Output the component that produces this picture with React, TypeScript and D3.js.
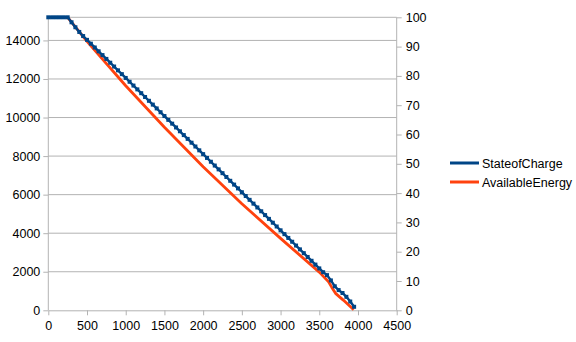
import React, { useEffect, useRef } from 'react';
import * as d3 from 'd3';

// time (x) for the State of Charge series, one sample every 50
const socTime = [
  0, 50, 100, 150, 200, 250, 300, 350, 400, 450, 500, 550, 600, 650, 700, 750,
  800, 850, 900, 950, 1000, 1050, 1100, 1150, 1200, 1250, 1300, 1350, 1400, 1450,
  1500, 1550, 1600, 1650, 1700, 1750, 1800, 1850, 1900, 1950, 2000, 2050, 2100,
  2150, 2200, 2250, 2300, 2350, 2400, 2450, 2500, 2550, 2600, 2650, 2700, 2750,
  2800, 2850, 2900, 2950, 3000, 3050, 3100, 3150, 3200, 3250, 3300, 3350, 3400,
  3450, 3500, 3550, 3600, 3650, 3700, 3750, 3800, 3850, 3900, 3950,
];
const stateOfCharge = [
  100, 100, 100, 100, 100, 100, 98.3, 96.6, 95.0, 93.6, 92.3, 91.0, 89.7, 88.4,
  87.1, 85.8, 84.5, 83.2, 81.9, 80.6, 79.3, 78.0, 76.7, 75.4, 74.1, 72.8, 71.5,
  70.2, 68.9, 67.6, 66.3, 65.0, 63.7, 62.4, 61.1, 59.8, 58.5, 57.2, 55.9, 54.6,
  53.3, 52.0, 50.7, 49.4, 48.1, 46.8, 45.5, 44.2, 42.9, 41.6, 40.3, 39.0, 37.7,
  36.4, 35.1, 33.8, 32.5, 31.2, 29.9, 28.6, 27.3, 26.0, 24.7, 23.4, 22.1, 20.8,
  19.5, 18.2, 16.9, 15.6, 14.3, 13.0, 12.0, 10.2, 8.2, 6.9, 5.9, 4.6, 3.0, 1.2,
];

// Available energy, read at a handful of points along the curve
const energyTime = [0, 250, 500, 1000, 1500, 2000, 2500, 3000, 3500, 3620, 3660, 3710, 3810, 3945];
const availableEnergy = [15200, 15200, 13950, 11650, 9500, 7450, 5530, 3730, 1980, 1480, 1200, 880, 530, 30];

const xTicks = [0, 500, 1000, 1500, 2000, 2500, 3000, 3500, 4000, 4500];
const leftTicks = [0, 2000, 4000, 6000, 8000, 10000, 12000, 14000];
const rightTicks = [0, 10, 20, 30, 40, 50, 60, 70, 80, 90, 100];

const seriesNames = ['StateofCharge', 'AvailableEnergy'];
const seriesColors = ['#004586', '#ff420e'];

export default function App() {
  const ref = useRef<SVGSVGElement>(null);

  useEffect(() => {
    const width = 576;
    const height = 342;
    const left = 48.3;
    const right = 396.7;
    const top = 17.3;
    const bottom = 310.3;
    const font = '"Liberation Sans", Arial, sans-serif';
    const axisColor = '#b3b3b3';

    const x = d3.scaleLinear().domain([0, 4500]).range([left, right]);
    const yL = d3.scaleLinear().domain([0, 15200]).range([bottom, top]);
    const yR = d3.scaleLinear().domain([0, 100]).range([bottom, top]);

    const svg = d3.select(ref.current)
      .attr('width', width)
      .attr('height', height);
    svg.selectAll('*').remove();

    svg.append('rect').attr('width', width).attr('height', height).attr('fill', '#fff');

    // grid, plus the top edge of the plot area
    svg.append('g')
      .selectAll('line')
      .data(leftTicks.filter(d => d > 0).map(d => yL(d)).concat([top]))
      .join('line')
      .attr('x1', left).attr('x2', right)
      .attr('y1', d => d).attr('y2', d => d)
      .attr('stroke', axisColor)
      .attr('stroke-width', 1);

    const styleAxis = (g: any) => {
      g.select('.domain').attr('stroke', axisColor);
      g.selectAll('.tick line').attr('stroke', axisColor);
      g.selectAll('.tick text')
        .attr('fill', '#000')
        .style('font-family', font)
        .style('font-size', '12.5px');
    };

    svg.append('g')
      .attr('transform', `translate(0,${bottom})`)
      .call(d3.axisBottom(x).tickValues(xTicks).tickSize(5).tickPadding(6).tickSizeOuter(0).tickFormat(d3.format('d')))
      .call(styleAxis);

    svg.append('g')
      .attr('transform', `translate(${left},0)`)
      .call(d3.axisLeft(yL).tickValues(leftTicks).tickSize(5).tickPadding(3).tickSizeOuter(0).tickFormat(d3.format('d')))
      .call(styleAxis)
      .call(g => g.select('.domain').attr('d', `M0,${bottom}V${top}`));

    svg.append('g')
      .attr('transform', `translate(${right},0)`)
      .call(d3.axisRight(yR).tickValues(rightTicks).tickSize(5).tickPadding(4).tickSizeOuter(0))
      .call(styleAxis)
      .call(g => g.select('.domain').attr('d', `M0,${bottom}V${top}`));

    // available energy (left axis)
    const energyData = energyTime.map((t, i) => [t, availableEnergy[i]] as [number, number]);
    svg.append('path')
      .datum(energyData)
      .attr('fill', 'none')
      .attr('stroke', seriesColors[1])
      .attr('stroke-width', 2.8)
      .attr('stroke-linejoin', 'round')
      .attr('d', d3.line<[number, number]>().x(d => x(d[0])).y(d => yL(d[1])));

    // state of charge (right axis)
    const socData = socTime.map((t, i) => [t, stateOfCharge[i]] as [number, number]);
    svg.append('path')
      .datum(socData)
      .attr('fill', 'none')
      .attr('stroke', seriesColors[0])
      .attr('stroke-width', 2.4)
      .attr('d', d3.line<[number, number]>().x(d => x(d[0])).y(d => yR(d[1])));

    svg.append('g')
      .selectAll('rect')
      .data(socData)
      .join('rect')
      .attr('x', d => x(d[0]) - 2)
      .attr('y', d => yR(d[1]) - 2)
      .attr('width', 4)
      .attr('height', 4)
      .attr('fill', seriesColors[0]);

    // legend
    const legend = svg.append('g');
    seriesNames.forEach((name, i) => {
      const ly = 163 + i * 19;
      legend.append('line')
        .attr('x1', 450).attr('x2', 479)
        .attr('y1', ly).attr('y2', ly)
        .attr('stroke', seriesColors[i])
        .attr('stroke-width', 3);
      legend.append('text')
        .attr('x', 482)
        .attr('y', ly + 4.5)
        .attr('fill', '#000')
        .style('font-family', font)
        .style('font-size', '12.5px')
        .text(name);
    });
  }, []);

  return <svg ref={ref} style={{ position: 'absolute', left: 0, top: 0 }}></svg>;
}
